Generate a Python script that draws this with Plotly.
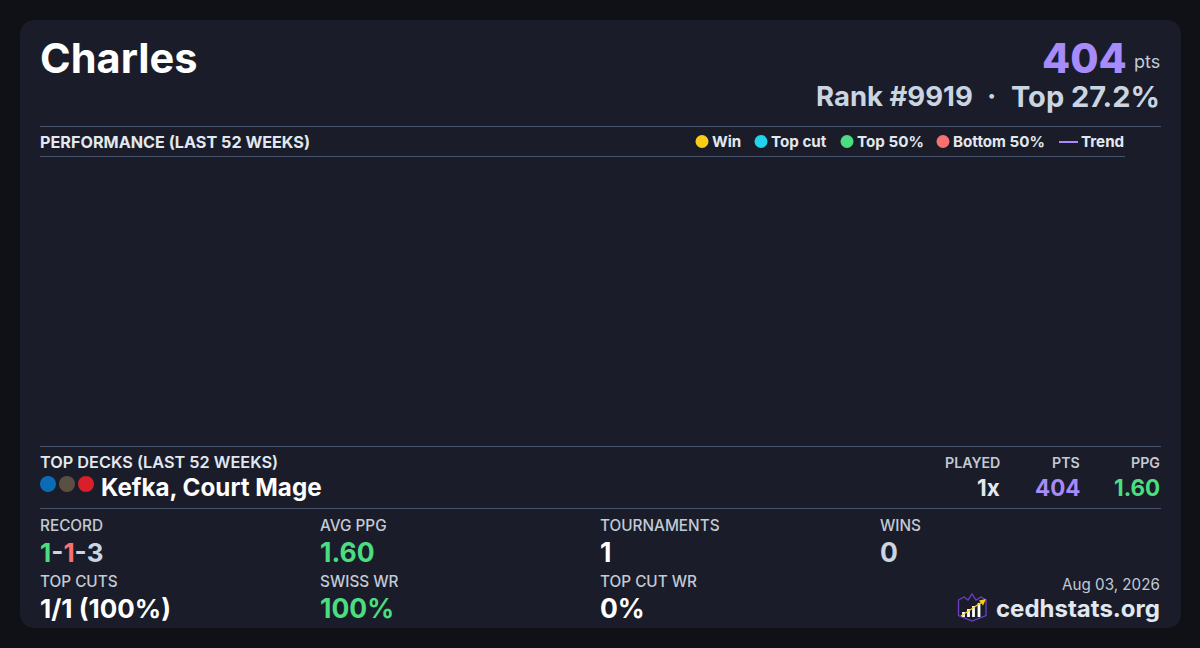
import plotly.graph_objects as go

PAGE_BG = "#101116"
CARD_BG = "#1a1d29"
RULE = "#47546b"
WHITE = "#ffffff"
SLATE = "#cbd5e1"
PALE = "#e2e8f0"
LABEL = "#c3cad6"
PURPLE = "#a78bfa"
GREEN = "#4ade80"
RED = "#f87171"
FONT = "Inter"

legend_names = ["Win", "Top cut", "Top 50%", "Bottom 50%"]
legend_colors = ["#facc15", "#22d3ee", "#4ade80", "#f87171"]
legend_dot_x = [702, 761, 847, 943]
legend_text_x = [712, 771, 857, 953]

color_identity = ["#0b6cb5", "#5a5042", "#d81f2a"]
color_identity_x = [48, 67, 86]

bar_x = [963.5, 968.5, 973.5, 979]
bar_heights = [5, 8, 11, 14]

stats = [
    (40, 525, "RECORD", 552, f'<span style="color:{GREEN}">1</span><span style="color:{SLATE}">-</span><span style="color:{RED}">1</span><span style="color:{SLATE}">-3</span>', SLATE, 26),
    (320, 525, "AVG PPG", 552, "1.60", GREEN, 26.5),
    (600, 525, "TOURNAMENTS", 552, "1", WHITE, 26.5),
    (880, 525, "WINS", 552, "0", SLATE, 26.5),
    (40, 581, "TOP CUTS", 608, "1/1 (100%)", WHITE, 26),
    (320, 581, "SWISS WR", 608, "100%", GREEN, 26.5),
    (600, 581, "TOP CUT WR", 608, "0%", WHITE, 26.5),
]

fig = go.Figure()


def text(x, y, s, size, color, weight=400, anchor="left"):
    fig.add_annotation(
        x=x, y=y, xref="x", yref="y", text=s, showarrow=False, xanchor=anchor, yanchor="middle",
        borderpad=0, borderwidth=0,
        font=dict(family=FONT, size=size, color=color, weight=weight),
    )


def rule(x0, x1, y):
    fig.add_shape(type="line", x0=x0, x1=x1, y0=y, y1=y, xref="x", yref="y",
                  line=dict(color=RULE, width=1), layer="below")


# Card
fig.add_shape(type="path", xref="x", yref="y", layer="below", fillcolor=CARD_BG, line=dict(width=0),
              path="M36,20 H1165 Q1181,20 1181,36 V612 Q1181,628 1165,628 H36 Q20,628 20,612 V36 Q20,20 36,20 Z")

# Header
text(40, 58, "Charles", 41.5, WHITE, 700)
text(1127, 58, "404", 41, PURPLE, 800, "right")
text(1160, 61, "pts", 18, LABEL, 400, "right")
text(972.5, 96, "Rank #9919", 27.5, SLATE, 700, "right")
text(991, 96, "·", 28, SLATE, 700, "center")
text(1160, 96, "Top 27.2%", 29, SLATE, 700, "right")

# Performance header
rule(40, 1161, 126.5)
rule(40, 1125, 156.5)
text(40, 142, "PERFORMANCE (LAST 52 WEEKS)", 16.2, PALE, 700)

# Legend, drawn by a marker trace
fig.add_trace(go.Scatter(
    x=legend_dot_x, y=[141.5] * len(legend_dot_x), mode="markers",
    marker=dict(color=legend_colors, size=13, symbol="circle", line=dict(width=0)),
    hoverinfo="skip", showlegend=False,
))
for name, x in zip(legend_names, legend_text_x):
    text(x, 141.5, name, 15.2, PALE, 700)
fig.add_shape(type="line", x0=1059, x1=1078, y0=142, y1=142, xref="x", yref="y",
              line=dict(color=PURPLE, width=2))
text(1081, 141.5, "Trend", 15.2, PALE, 700)

# Top decks
rule(40, 1161, 446.5)
rule(40, 1161, 508.5)
text(40, 462, "TOP DECKS (LAST 52 WEEKS)", 16.3, PALE, 600)
fig.add_trace(go.Scatter(
    x=color_identity_x, y=[484] * 3, mode="markers",
    marker=dict(color=color_identity, size=16, line=dict(width=0)),
    hoverinfo="skip", showlegend=False,
))
text(101, 487, "Kefka, Court Mage", 24.2, WHITE, 700)
for x, head, val, c in [(1000, "PLAYED", "1x", PALE), (1080, "PTS", "404", PURPLE), (1160, "PPG", "1.60", GREEN)]:
    text(x, 462, head, 14.2, LABEL, 600, "right")
    text(x, 487, val, 22.4, c, 700, "right")

# Stats grid
for x, ly, lab, vy, val, c, size in stats:
    text(x, ly, lab, 15.3, LABEL, 500)
    text(x, vy, val, size, c, 700)

# Footer
text(1160, 584, "Aug 03, 2026", 15.2, LABEL, 400, "right")
text(1160, 608, "cedhstats.org", 24, PALE, 700, "right")

# Logo
fig.add_shape(type="path", xref="x", yref="y", fillcolor="rgba(0,0,0,0)", line=dict(color="#6d3fc4", width=1.3),
              path="M958.5,600 L964,597 L968,600 L972,594 L976,600 L981,597 L986,600 V615.5 L972,621 L958.5,615.5 Z")
for x, h in zip(bar_x, bar_heights):
    fig.add_shape(type="rect", xref="x", yref="y", x0=x - 1.4, x1=x + 1.4, y0=617 - h, y1=617,
                  fillcolor=WHITE, line=dict(width=0))
fig.add_shape(type="line", xref="x", yref="y", x0=961, y0=616, x1=982, y1=602, line=dict(color="#facc15", width=1.4))
fig.add_shape(type="path", xref="x", yref="y", fillcolor="#facc15", line=dict(width=0),
              path="M986,599 L979,600.5 L983,605.5 Z")

fig.update_layout(
    width=1200, height=648, margin=dict(l=0, r=0, t=0, b=0), autosize=False,
    paper_bgcolor=PAGE_BG, plot_bgcolor=PAGE_BG, showlegend=False,
    xaxis=dict(range=[0, 1200], visible=False, fixedrange=True),
    yaxis=dict(range=[648, 0], visible=False, fixedrange=True),
)
fig.write_html("out.html", config={"displayModeBar": False},
               post_script="document.body.style.margin='0';document.body.style.overflow='hidden';")
